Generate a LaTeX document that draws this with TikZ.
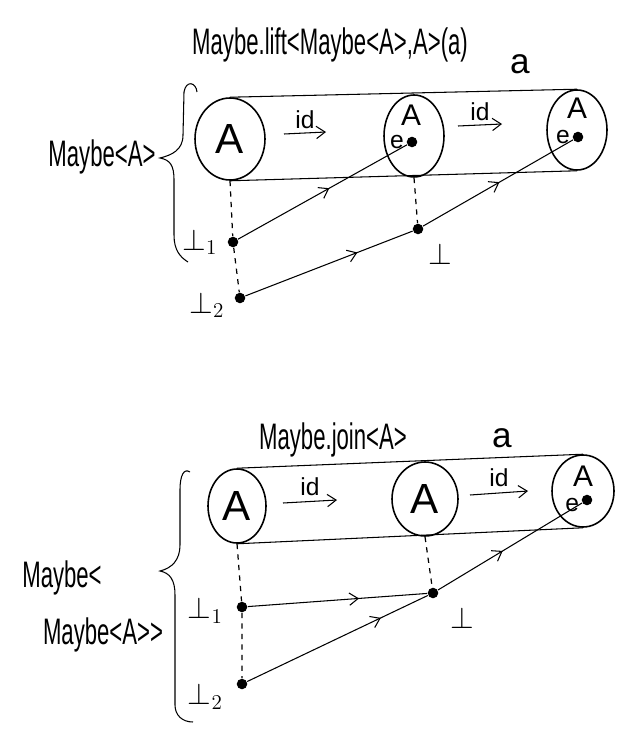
\documentclass[tikz,border=0pt]{standalone}
\usepackage{fontspec}
\setmainfont{Liberation Sans}
\usetikzlibrary{shapes.geometric,arrows.meta,positioning,decorations.markings}

\newcommand{\hw}[1]{{\fontsize{21}{24}\selectfont\scalebox{0.6}[1]{#1}}}

\begin{document}
\begin{tikzpicture}[x=0.02cm, y=-0.02cm, line width=0.6pt,
    every node/.style={font=\fontsize{17}{20}\selectfont},
    blob/.style={draw, ellipse, line width=0.9pt, inner sep=0pt},
    pt/.style={circle, fill, inner sep=0pt, minimum size=6pt},
    small/.style={font=\fontsize{14}{16}\selectfont, inner sep=1pt},
    big/.style={font=\fontsize{24}{28}\selectfont},
    guide/.style={dashed, line width=0.7pt},
    barb/.style={-{Straight Barb[length=5pt,width=7pt]}},
    midarrow/.style={postaction={decorate}, decoration={markings,
        mark=at position #1 with {\arrow{Straight Barb[length=5pt,width=7pt]}}}},
    midarrow/.default=0.55]

    \useasboundingbox (0,0) rectangle (640,746);

    % Maybe.lift
    \node (lifttitle) at (330,45) {\hw{Maybe.lift<Maybe<A>,A>(a)}};
    \node[font=\fontsize{20}{24}\selectfont] (lifta) at (520,64) {a};
    \node[blob, big, minimum width=1.4cm, minimum height=1.64cm] (la1) at (230,139) {A};
    \node[blob, minimum width=1.2cm, minimum height=1.64cm] (la2) at (414,136) {};
    \node[blob, minimum width=1.2cm, minimum height=1.6cm] (la3) at (577,130) {};
    \draw (la1.north) -- (la3.north);
    \draw (la1.south) -- (la3.south);
    \node (lA2) at (411,115) {A};
    \node (lA3) at (577,108) {A};
    \node[pt] (le2) at (412,142) {};
    \node[pt] (le3) at (578,137) {};
    \node[small, left=0pt of le2] {e};
    \node[small, left=0pt of le3] {e};
    \coordinate (li1s) at (284,134); \coordinate (li1e) at (326,132);
    \coordinate (li2s) at (458,126); \coordinate (li2e) at (502,124);
    \draw[barb] (li1s) -- (li1e) node[small, midway, above=1pt] {id};
    \draw[barb] (li2s) -- (li2e) node[small, midway, above=1pt] {id};
    \node[pt] (lb1) at (233,242) {};
    \node[pt] (lb2) at (240,298) {};
    \node[pt] (lb) at (418,229) {};
    \node[left=2pt of lb1] {$\bot_1$};
    \node[left=2pt of lb2, yshift=-4pt] {$\bot_2$};
    \node[below right=2pt and 0pt of lb] {$\bot$};
    \draw[guide] (la1.south) -- (lb1) -- (lb2);
    \draw[guide] (la2.south) -- (lb);
    \draw[midarrow=0.54] (lb1) -- (le2);
    \draw[midarrow=0.67] (lb2) -- (lb);
    \draw[midarrow=0.51] (lb) -- (le3);
    \draw (197,92) .. controls (196,82) and (186,80) .. (184,92) -- (183,135)
        .. controls (183,150) and (172,155) .. (160,158)
        .. controls (170,160) and (174,165) .. (174,180) -- (174,235)
        .. controls (174,250) and (180,257) .. (188,262);
    \node (liftlhs) at (102,157) {\hw{Maybe<A>}};

    % Maybe.join
    \node (jointitle) at (333,440) {\hw{Maybe.join<A>}};
    \node[font=\fontsize{20}{24}\selectfont] (joina) at (502,438) {a};
    \node[blob, big, minimum width=1.16cm, minimum height=1.48cm] (ja1) at (237,506) {A};
    \node[blob, big, minimum width=1.32cm, minimum height=1.48cm] (ja2) at (425,499) {A};
    \node[blob, minimum width=1.24cm, minimum height=1.44cm] (ja3) at (583,491) {};
    \draw (ja1.north) -- (ja3.north);
    \draw (ja1.south) -- (ja3.south);
    \node (jA3) at (583,476) {A};
    \node[pt] (je3) at (587,500) {};
    \node[small, left=0pt of je3, yshift=-3pt] {e};
    \coordinate (ji1s) at (283,503); \coordinate (ji1e) at (337,500);
    \coordinate (ji2s) at (470,495); \coordinate (ji2e) at (528,491);
    \draw[barb] (ji1s) -- (ji1e) node[small, midway, above=2pt] {id};
    \draw[barb] (ji2s) -- (ji2e) node[small, midway, above=2pt] {id};
    \node[pt] (jb1) at (242,607) {};
    \node[pt] (jb2) at (242,684) {};
    \node[pt] (jb) at (433,593) {};
    \node[left=4pt of jb1, yshift=-2pt] {$\bot_1$};
    \node[left=4pt of jb2, yshift=-7pt] {$\bot_2$};
    \node[below right=2pt and 4pt of jb] {$\bot$};
    \draw[guide] (ja1.south) -- (jb1) -- (jb2);
    \draw[guide] (ja2.south) -- (jb);
    \draw[midarrow=0.62] (jb1) -- (jb);
    \draw[midarrow=0.74] (jb2) -- (jb);
    \draw[midarrow=0.45] (jb) -- (je3);
    \draw (190,472) .. controls (184,468) and (180,475) .. (180,490) -- (180,545)
        .. controls (180,560) and (172,568) .. (160,571)
        .. controls (170,573) and (175,580) .. (175,595) -- (175,705)
        .. controls (175,715) and (182,722) .. (193,722);
    \node (joinlhs1) at (62,578) {\hw{Maybe<}};
    \node (joinlhs2) at (103,635) {\hw{Maybe<A>{}>}};
\end{tikzpicture}
\end{document}
